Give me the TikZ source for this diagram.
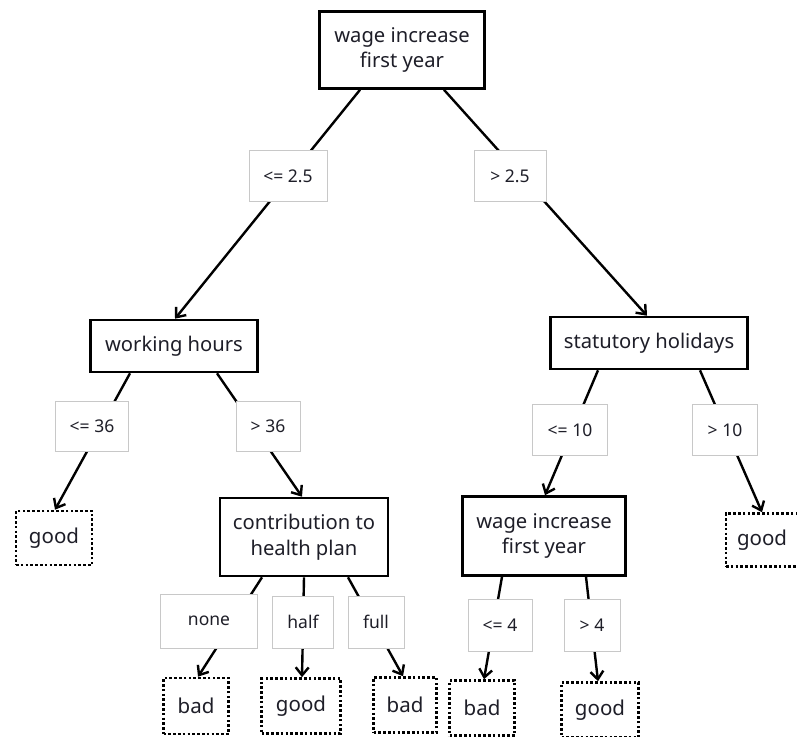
\documentclass[tikz,border=0pt]{standalone}
\usepackage{fontspec}
\setmainfont{Noto Sans}
\usetikzlibrary{arrows.meta}
\definecolor{ink}{HTML}{1E1E28}
\definecolor{lblframe}{HTML}{C8C8C8}
\begin{document}
\begin{tikzpicture}[x=1pt,y=-1pt,
  test/.style={draw=black, line width=2.6pt, fill=white, text=ink,
    font=\fontsize{20.2}{25.5}\selectfont, align=center, inner sep=0pt},
  leaf/.style={draw=black, line width=2.6pt, dash pattern=on 2.6pt off 2.2pt,
    fill=white, text=ink, font=\fontsize{20.5}{24}\selectfont, inner sep=0pt},
  cond/.style={draw=lblframe, line width=0.9pt, fill=white, text=ink,
    font=\fontsize{17.5}{20}\selectfont, inner sep=0pt},
  edge/.style={line width=2.4pt, -{Straight Barb[length=8pt,width=13pt]}}
]
\useasboundingbox[fill=white] (0,0) rectangle (797,736);

% decision nodes
\node[test, minimum width=165, minimum height=77] (root) at (402,50) {wage increase\\first year};
\node[test, minimum width=167, minimum height=52] (wh) at (174,346) {working hours};
\node[test, minimum width=197, minimum height=52] (sh) at (649,343) {statutory holidays};
\node[test, minimum width=168, minimum height=78] (hp) at (304,537) {contribution to\\health plan};
\node[test, minimum width=163, minimum height=79] (wi) at (544,536) {wage increase\\first year};

% leaves
\node[leaf, minimum width=76, minimum height=54] (g1) at (54,538) {good};
\node[leaf, minimum width=72, minimum height=53] (g2) at (762,540) {good};
\node[leaf, minimum width=65, minimum height=56] (b1) at (196,706) {bad};
\node[leaf, minimum width=79, minimum height=55] (g3) at (301,706) {good};
\node[leaf, minimum width=63, minimum height=55] (b2) at (405,705) {bad};
\node[leaf, minimum width=65, minimum height=55] (b3) at (482,708) {bad};
\node[leaf, minimum width=77, minimum height=55] (g4) at (600,710) {good};

% connectors
\draw[edge] ([xshift=-42]root.south) -- ([xshift=1]wh.north);
\draw[edge] ([xshift=42]root.south) -- ([xshift=-2]sh.north);
\draw[edge] ([xshift=-44]wh.south) -- ([xshift=1]g1.north);
\draw[edge] ([xshift=43]wh.south) -- ([xshift=-2]hp.north);
\draw[edge] ([xshift=-42]hp.south) -- ([xshift=2]b1.north);
\draw[edge] ([xshift=0]hp.south) -- ([xshift=1]g3.north);
\draw[edge] ([xshift=44]hp.south) -- ([xshift=-2]b2.north);
\draw[edge] ([xshift=-51]sh.south) -- ([xshift=1]wi.north);
\draw[edge] ([xshift=51]sh.south) -- ([xshift=0]g2.north);
\draw[edge] ([xshift=-42]wi.south) -- ([xshift=2]b3.north);
\draw[edge] ([xshift=42]wi.south) -- ([xshift=-2]g4.north);

% branch conditions
\node[cond, minimum width=78, minimum height=51] (c1) at (288,176) {<= 2.5};
\node[cond, minimum width=72, minimum height=51] (c2) at (510,176) {> 2.5};
\node[cond, minimum width=73, minimum height=50] (c3) at (92,426) {<= 36};
\node[cond, minimum width=64, minimum height=50] (c4) at (268,426) {> 36};
\node[cond, minimum width=97, minimum height=54] (c5) at (209,621) {none};
\node[cond, minimum width=61, minimum height=52] (c6) at (303,622) {half};
\node[cond, minimum width=56, minimum height=52] (c7) at (376,622) {full};
\node[cond, minimum width=75, minimum height=51] (c8) at (570,430) {<= 10};
\node[cond, minimum width=65, minimum height=51] (c9) at (725,430) {> 10};
\node[cond, minimum width=64, minimum height=52] (c10) at (500,625) {<= 4};
\node[cond, minimum width=56, minimum height=52] (c11) at (592,625) {> 4};
\end{tikzpicture}
\end{document}
